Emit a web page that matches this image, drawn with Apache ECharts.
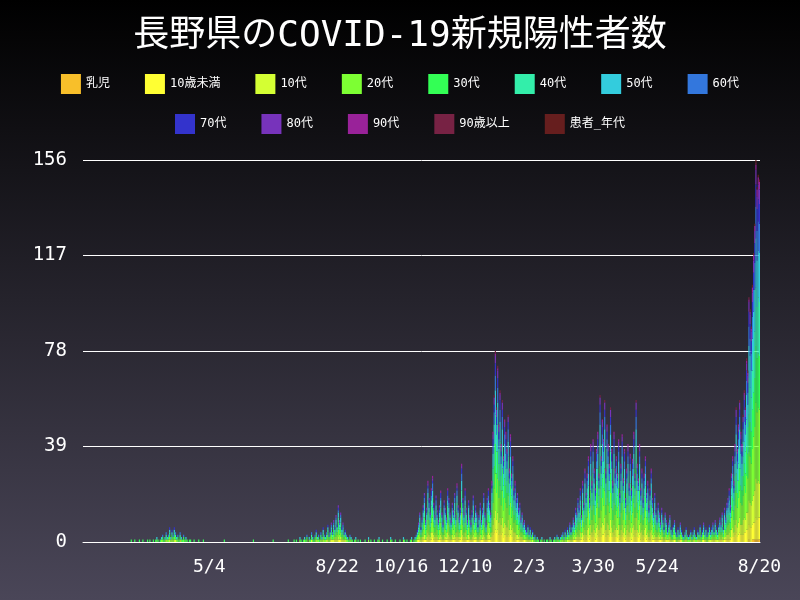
<!DOCTYPE html>
<html lang="ja">
<head>
<meta charset="UTF-8">
<title>長野県のCOVID-19新規陽性者数</title>
<script src="https://cdn.jsdelivr.net/npm/echarts@6/dist/echarts.min.js"></script>
<style>html,body{margin:0;padding:0;}</style>
</head>
<body>
<div id="main" style="width:800px;height:600px;"></div>
<script>
// age groups and colours
var groups = ['乳児', '10歳未満', '10代', '20代', '30代', '40代', '50代', '60代', '70代', '80代', '90代', '90歳以上', '患者_年代'];
var colors = ['#f8bf2a', '#ffff33', '#d4ff33', '#7dff33', '#33ff55', '#33eeaa', '#33ccdd', '#3377dd', '#3333cc', '#7733bb', '#992299', '#772244', '#661e1e'];
// approximate share of each group in the daily count
var shares = [0.005, 0.06, 0.1, 0.2, 0.15, 0.15, 0.13, 0.08, 0.06, 0.04, 0.015, 0.005, 0.005];

var startDate = new Date(2020, 0, 17);
var shownIdx = [108, 218, 273, 328, 383, 438, 493, 581];
var yTicks = [0, 39, 78, 117, 156];

// daily totals
var totals = [].concat(
  [0,0,0,0,0,0,0,0,0,0, 0,0,0,0,0,0,0,0,0,0, 0,0,0,0,0,0,0,0,0,0, 0,0,0,0,0,0,0,0,0,0],
  [0,1,0,0,1,0,0,0,1,0, 0,1,0,0,0,1,0,1,0,0, 1,0,1,2,1,0,1,2,3,1, 2,4,2,3,6,2,5,3,6,4, 2,3,1,4,2,1,3,1,2,1, 0,1,1,0,0,1,0,0,0,1, 0,0,0,1,0,0,0,0],
  [0,0,0,0,0,0,0,0,0,0, 0,0,0,1,0,0,0,0,0,0, 0,0,0,0,0,0,0,0,0,0, 0,0,0,0,0,0,0,0,1,0, 0,0,0,0,0,0,0,0,0,0, 0,0,0,0,0,1,0,0,0,0, 0,0,0,0,0,0,0,0,1,0, 0,0],
  [0,1,0,1,0,0,2,1,0,1, 2,1,3,0,2,1,4,2,1,3, 5,2,3,1,4,2,6,3,2,4, 7,3,5,8,4,9,6,11,7,15, 9,12,6,8,4,5,3,2,1,3, 2,1,0,1,2,0,1,0,1,0, 0],
  [0,1,0,0,2,0,1,0,0,1, 0,0,1,2,0,0,1,0,0,0, 1,0,0,2,1,0,0,1,0,0, 0,1,0,0,2,1,0,1,0,0, 1,2,0,1,2],
  [3,5,8,12,6,10,15,20,9,14, 25,18,12,22,27,16,11,19,13,9, 15,21,12,8,17,14,10,22,18,12, 9,16,13,20,11,24,15,10,14,32, 18,12,22,14,9,17,11,8,13,19, 10,15,12,7,11,16,9,14,20,12, 8,18,22,16,12],
  [25,45,60,78,55,72,48,62,40,58, 35,50,45,38,52,30,44,28,35,22, 25,18,20,14,16,10,12,8,9,6],
  [5,7,4,6,3,5,2,3,1,2, 1,0,1,2,0,1,0,1,1,0, 2,1,0,1,2,1,3,2,1,2, 3,4,2,5,3,6,4,8,5,7],
  [10,8,14,12,18,15,22,11,25,16, 30,20,28,35,18,40,25,42,30,22, 38,45,28,60,35,50,42,58,30,48, 40,32,55,38,25,45,30,35,28,42,
   20,32,44,26,38,18,30,40,24,36, 22,34,45,28,58,32,26,40,22,30, 18,28,35,20,25,15,22,30,18,12, 20,14,10,16,12,8,14,10,6,12,
   9,5,8,11,6,4,7,9,5,3, 6,4,8,5,3,2,4,6,3,2],
  [3,5,2,4,6,3,2,5,4,7, 3,5,8,4,6,3,5,7,4,6, 8,5,9,6,4,7,10,8,12,6, 14,10,16],
  [18,22,15,28,35,25,40,55,38,48, 58,45,40,52,62,55,75,70,100,95, 88,105,118,130,156,145,150,148]
);

var dates = [];
for (var i = 0; i < totals.length; i++) {
    var d = new Date(startDate.getTime() + i * 86400000);
    dates.push((d.getMonth() + 1) + '/' + d.getDate());
}

var series = [];
groups.forEach(function (name, g) {
    var cumA = 0;
    for (var k = 0; k < g; k++) cumA += shares[k];
    var cumB = cumA + shares[g];
    series.push({
        name: name,
        type: 'bar',
        stack: 'all',
        barCategoryGap: '0%',
        itemStyle: {color: colors[g]},
        data: totals.map(function (t) {
            return Math.round(cumB * t) - Math.round(cumA * t);
        })
    });
});

var legendBase = {
    left: 'center',
    itemWidth: 20,
    itemHeight: 20,
    itemGap: 35,
    icon: 'rect',
    textStyle: {color: '#fff', fontSize: 12, fontFamily: 'DejaVu Sans Mono, Noto Sans CJK JP'}
};

var myChart = echarts.init(document.getElementById('main'));
myChart.setOption({
    animation: false,
    backgroundColor: {
        type: 'linear', x: 0, y: 0, x2: 0, y2: 1,
        colorStops: [{offset: 0, color: '#000000'}, {offset: 1, color: '#4a4658'}]
    },
    color: colors,
    title: {
        text: '長野県のCOVID-19新規陽性者数',
        left: 'center',
        top: 14,
        textStyle: {color: '#fff', fontSize: 36, fontWeight: 'normal', fontFamily: 'DejaVu Sans Mono, Noto Sans CJK JP'}
    },
    legend: [
        Object.assign({}, legendBase, {data: groups.slice(0, 8), top: 69}),
        Object.assign({}, legendBase, {data: groups.slice(8), top: 109})
    ],
    grid: {left: 83, right: 40, top: 160, bottom: 58},
    xAxis: {
        type: 'category',
        data: dates,
        axisLine: {lineStyle: {color: '#fff'}},
        axisTick: {show: false},
        axisLabel: {
            color: '#fff', fontSize: 18, fontFamily: 'DejaVu Sans Mono', margin: 16,
            interval: function (idx) {
                return shownIdx.indexOf(idx) >= 0;
            }
        }
    },
    yAxis: {
        type: 'value',
        min: 0,
        max: yTicks[yTicks.length - 1],
        interval: 39,
        axisLine: {show: false},
        axisTick: {show: false},
        axisLabel: {color: '#fff', fontSize: 19, fontFamily: 'DejaVu Sans Mono', margin: 16},
        splitLine: {lineStyle: {color: '#fff', width: 1}}
    },
    series: series
});
</script>
</body>
</html>
